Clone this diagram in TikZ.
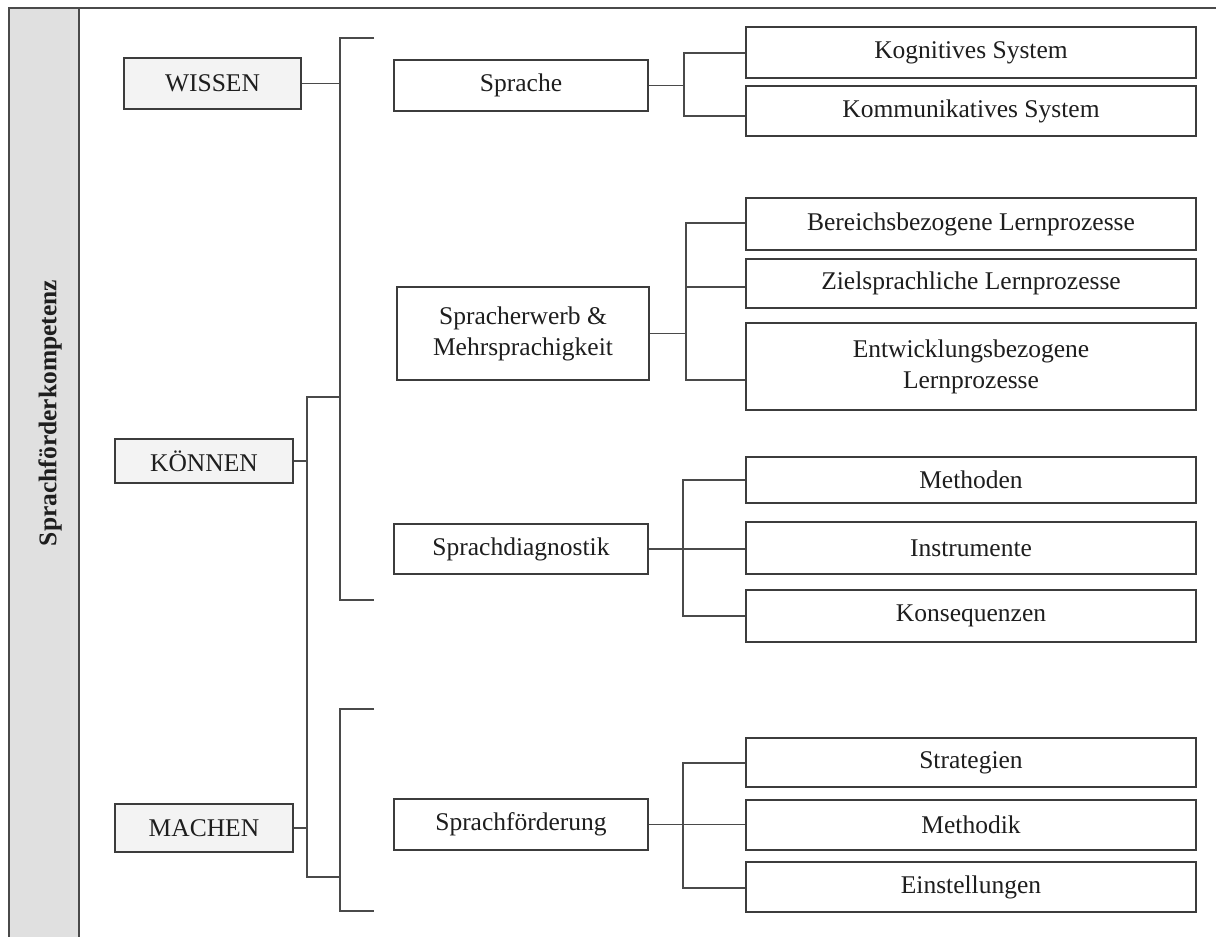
\documentclass[tikz,border=0pt]{standalone}
\usepackage{fontspec}
\setmainfont{Liberation Serif}
\newcommand{\myfs}{\fontsize{25.5}{31}\selectfont}
\definecolor{boxc}{HTML}{3C3C3C}
\definecolor{linec}{HTML}{4A4A4A}
\definecolor{txt}{HTML}{1E1E1E}
\definecolor{barc}{HTML}{E0E0E0}
\definecolor{lgray}{HTML}{F3F3F3}
\tikzset{
  box/.style={draw=boxc, line width=1.6pt, fill=white, inner sep=0pt, align=center, font=\myfs, text=txt},
  lbox/.style={box, fill=lgray},
  rbox/.style={box, minimum width=450pt},
  mbox/.style={box, minimum width=254pt},
  conn/.style={draw=linec, line width=1.7pt},
  thinconn/.style={draw=linec, line width=1.1pt},
  frame/.style={draw=linec, line width=1.8pt}
}
\begin{document}
\begin{tikzpicture}[x=1pt,y=-1pt]
\useasboundingbox[fill=white] (0,0) rectangle (1216,937);
% frame and side bar
\fill[barc] (9,8) rectangle (79,937);
\draw[frame] (9,937) -- (9,8) -- (1216,8);
\draw[frame] (79,8) -- (79,937);
\node[rotate=90, font=\myfs\bfseries, text=txt] (title) at (50,413) {Sprachförderkompetenz};

% left column
\node[lbox, minimum width=177pt, minimum height=51pt] (wissen) at (212.5,83.5) {WISSEN};
\node[lbox, minimum width=178pt, minimum height=44pt] (koennen) at (204,461) {KÖNNEN};
\node[lbox, minimum width=178pt, minimum height=48pt] (machen) at (204,828) {MACHEN};

% middle column
\node[mbox, minimum height=51pt] (sprache) at (521,85.5) {Sprache};
\node[box, minimum width=252pt, minimum height=93pt] (erwerb) at (523,333.5) {Spracherwerb \&\\Mehrsprachigkeit};
\node[mbox, minimum height=50pt] (diag) at (521,549) {Sprachdiagnostik};
\node[mbox, minimum height=51pt] (foerd) at (521,824.5) {Sprachförderung};

% right column
\node[rbox, minimum height=51pt] (kog) at (971,52.5) {Kognitives System};
\node[rbox, minimum height=50pt] (kom) at (971,111) {Kommunikatives System};
\node[rbox, minimum height=52pt] (ber) at (971,224) {Bereichsbezogene Lernprozesse};
\node[rbox, minimum height=49pt] (ziel) at (971,283.5) {Zielsprachliche Lernprozesse};
\node[rbox, minimum height=87pt] (entw) at (971,366.5) {Entwicklungsbezogene\\Lernprozesse};
\node[rbox, minimum height=46pt] (meth) at (971,480) {Methoden};
\node[rbox, minimum height=52pt] (instr) at (971,548) {Instrumente};
\node[rbox, minimum height=52pt] (kons) at (971,616) {Konsequenzen};
\node[rbox, minimum height=49pt] (strat) at (971,762.5) {Strategien};
\node[rbox, minimum height=50pt] (methodik) at (971,825) {Methodik};
\node[rbox, minimum height=50pt] (einst) at (971,887) {Einstellungen};

% bracket coordinates
\coordinate (k1) at (307,397);
\coordinate (k2) at (307,877);
\coordinate (a1) at (340,38);
\coordinate (a2) at (340,600);
\coordinate (a1e) at (374,38);
\coordinate (a2e) at (374,600);
\coordinate (b1) at (340,709);
\coordinate (b2) at (340,911);
\coordinate (b1e) at (374,709);
\coordinate (b2e) at (374,911);
\coordinate (s1) at (684,53);
\coordinate (s2) at (684,116);
\coordinate (e1) at (686,223);
\coordinate (e2) at (686,287);
\coordinate (e3) at (686,380);
\coordinate (d1) at (683,480);
\coordinate (d2) at (683,616);
\coordinate (f1) at (683,763);
\coordinate (f2) at (683,888);

% left brackets
\draw[conn] (a1e) -- (a1) -- (a2) -- (a2e);
\draw[conn] (b1e) -- (b1) -- (b2) -- (b2e);
\draw[conn] (a1 |- k1) -- (k1) -- (k2) -- (b1 |- k2);
\draw[conn] (wissen.east) -- (wissen.east -| a1);
\draw[conn] (koennen.east) -- (koennen.east -| k1);
\draw[conn] (machen.east) -- (machen.east -| k1);

% Sprache
\draw[conn] (sprache.east) -- (sprache.east -| s1);
\draw[conn] (kog.west |- s1) -- (s1) -- (s2) -- (kom.west |- s2);

% Spracherwerb
\draw[conn] (erwerb.east) -- (erwerb.east -| e1);
\draw[conn] (ber.west |- e1) -- (e1) -- (e3) -- (entw.west |- e3);
\draw[thinconn] (e2) -- (e2 -| ziel.west);

% Sprachdiagnostik
\draw[conn] (meth.west |- d1) -- (d1) -- (d2) -- (kons.west |- d2);
\draw[thinconn] (diag.east) -- (diag.east -| instr.west);

% Sprachfoerderung
\draw[conn] (strat.west |- f1) -- (f1) -- (f2) -- (einst.west |- f2);
\draw[thinconn] (foerd.east) -- (foerd.east -| methodik.west);
\end{tikzpicture}
\end{document}
